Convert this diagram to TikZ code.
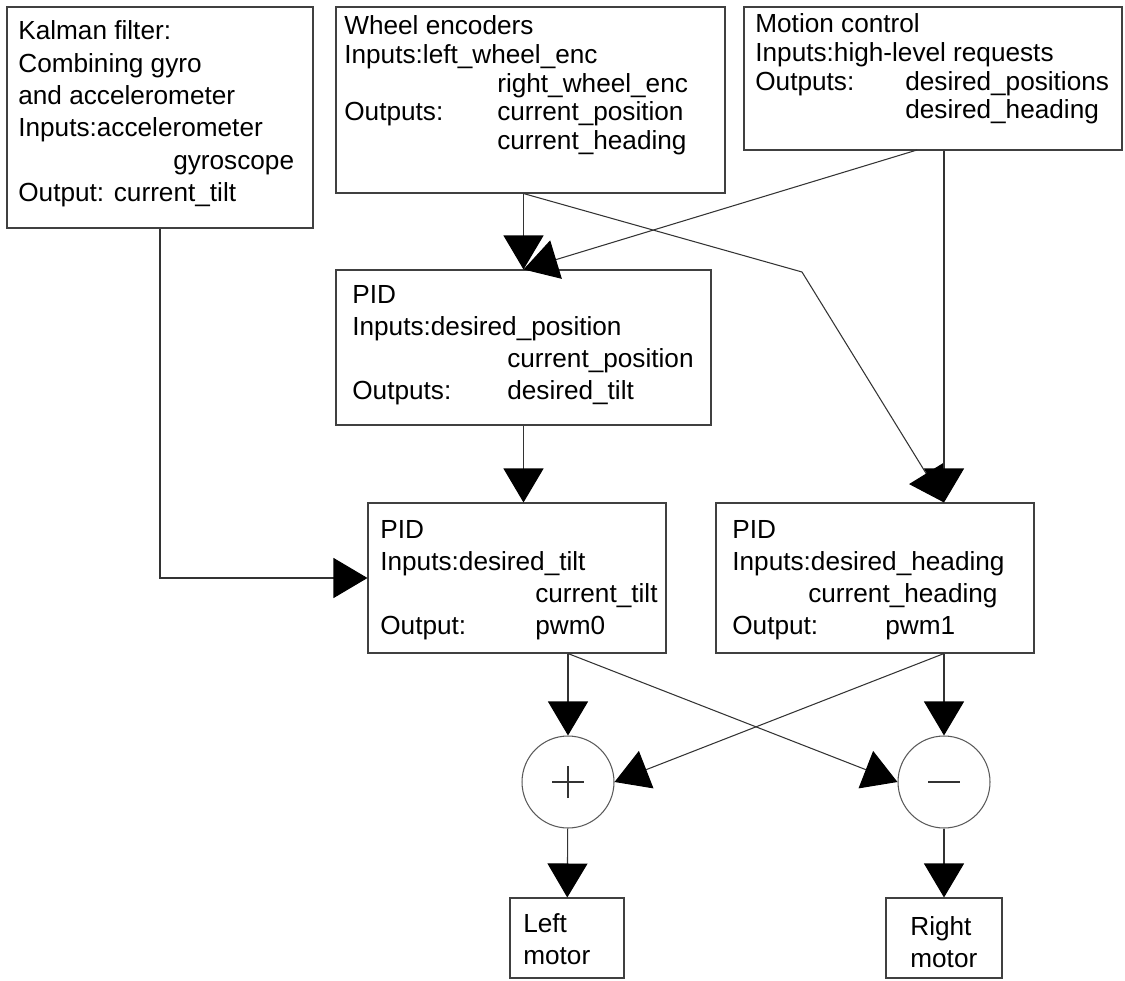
\documentclass[tikz,border=0pt]{standalone}
\usepackage{fontspec}
\setmainfont{Liberation Sans}
\usetikzlibrary{arrows.meta,fit,positioning}

\tikzset{
  blk/.style={draw=black!75, line width=0.6pt, inner sep=0pt},
  txt/.style={anchor=base west, inner sep=0pt, font=\fontsize{14.9}{18.4}\selectfont},
  txtnarrow/.style={txt, font=\fontsize{14.9}{16.3}\selectfont},
  flow/.style={draw=black!80, line width=0.6pt, -{Triangle[length=0.68cm,width=0.8cm,color=black,fill=black]}},
  sumnode/.style={circle, draw=black!65, line width=0.6pt, minimum size=1.84cm, inner sep=0pt},
}
\newcommand{\col}[2][3.06cm]{\makebox[#1][l]{#2}}

\begin{document}
\begin{tikzpicture}[x=0.02cm, y=-0.02cm]
    \useasboundingbox (0,0) rectangle (1125,980);

    % Bloecke oben
    \node[blk, fit={(7,7) (313,228)}] (kalman) {};
    \node[txt] (kalmantext) at (18,40) {\begin{tabular}[t]{@{}l@{}}
        Kalman filter:\\
        Combining gyro\\
        and accelerometer\\
        Inputs:accelerometer\\
        \col[3.1cm]{}gyroscope\\
        Output: current\_tilt
    \end{tabular}};

    \node[blk, fit={(336,7) (725,193)}] (wheel) {};
    \node[txtnarrow] (wheeltext) at (344,35) {\begin{tabular}[t]{@{}l@{}}
        Wheel encoders\\
        Inputs:left\_wheel\_enc\\
        \col{}right\_wheel\_enc\\
        \col{Outputs:}current\_position\\
        \col{}current\_heading
    \end{tabular}};

    \node[blk, fit={(744,7) (1122,150)}] (motion) {};
    \node[txtnarrow] (motiontext) at (755,33) {\begin{tabular}[t]{@{}l@{}}
        Motion control\\
        Inputs:high-level requests\\
        \col[3cm]{Outputs:}desired\_positions\\
        \col[3cm]{}desired\_heading
    \end{tabular}};

    % Regler
    \node[blk, fit={(336,270) (711,425)}] (pidpos) {};
    \node[txt] (pidpostext) at (352,303) {\begin{tabular}[t]{@{}l@{}}
        PID\\
        Inputs:desired\_position\\
        \col[3.1cm]{}current\_position\\
        \col[3.1cm]{Outputs:}desired\_tilt
    \end{tabular}};

    \node[blk, fit={(368,503) (666,653)}] (pidtilt) {};
    \node[txt] (pidtilttext) at (380,538) {\begin{tabular}[t]{@{}l@{}}
        PID\\
        Inputs:desired\_tilt\\
        \col[3.1cm]{}current\_tilt\\
        \col[3.1cm]{Output:}pwm0
    \end{tabular}};

    \node[blk, fit={(716,503) (1034,653)}] (pidhead) {};
    \node[txt] (pidheadtext) at (732,538) {\begin{tabular}[t]{@{}l@{}}
        PID\\
        Inputs:desired\_heading\\
        \col[1.52cm]{}current\_heading\\
        \col{Output:}pwm1
    \end{tabular}};

    % Summenpunkte
    \node[sumnode, path picture={
        \draw[black!80, line width=0.6pt] (path picture bounding box.center) ++(-0.32cm,0) -- ++(0.64cm,0);
        \draw[black!80, line width=0.6pt] (path picture bounding box.center) ++(0,-0.32cm) -- ++(0,0.64cm);
    }] (plus) at (568,782) {};
    \node[sumnode, path picture={
        \draw[black!80, line width=0.6pt] (path picture bounding box.center) ++(-0.32cm,0) -- ++(0.64cm,0);
    }] (minus) at (944,782) {};

    % Motoren
    \node[blk, fit={(510,898) (624,978)}] (leftmotor) {};
    \node[txt] (leftmotortext) at (523,932) {\begin{tabular}[t]{@{}l@{}}Left\\ motor\end{tabular}};
    \node[blk, fit={(886,898) (1002,978)}] (rightmotor) {};
    \node[txt] (rightmotortext) at (910,935) {\begin{tabular}[t]{@{}l@{}}Right\\ motor\end{tabular}};

    % Verbindungen
    \coordinate (motionout) at (917,150);
    \coordinate (bend) at (802,272);
    \draw[flow] (kalman.south) |- (pidtilt.west);
    \draw[flow] (wheel.south -| pidpos.north) -- (pidpos.north);
    \draw[flow] (motionout) -- (pidpos.north);
    \draw[flow] (wheel.south -| pidpos.north) -- (bend) -- (minus |- pidhead.north);
    \draw[flow] (motion.south -| minus) -- (minus |- pidhead.north);
    \draw[flow] (pidpos.south) -- (pidpos.south |- pidtilt.north);
    \draw[flow] (plus |- pidtilt.south) -- (plus);
    \draw[flow] (plus |- pidtilt.south) -- (minus.west);
    \draw[flow] (minus |- pidhead.south) -- (minus);
    \draw[flow] (minus |- pidhead.south) -- (plus.east);
    \draw[flow] (plus) -- (leftmotor);
    \draw[flow] (minus) -- (rightmotor);
\end{tikzpicture}
\end{document}
